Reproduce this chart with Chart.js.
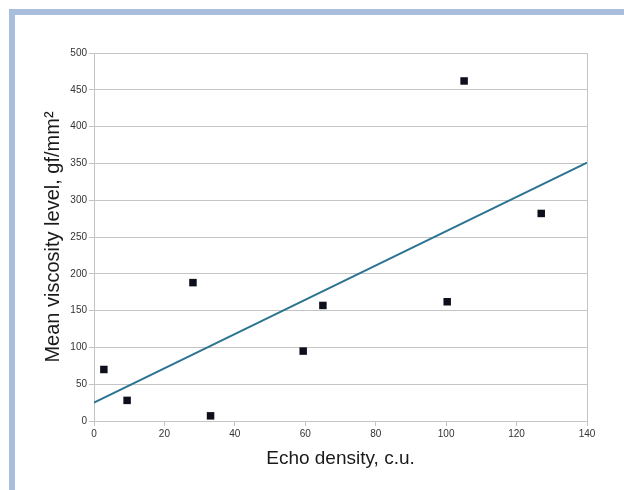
<!DOCTYPE html>
<html>
<head>
<meta charset="utf-8">
<script src="https://cdn.jsdelivr.net/npm/chart.js@4"></script>
<style>
  html, body { margin: 0; padding: 0; background: #ffffff; }
  #wrap { position: relative; width: 624px; height: 490px; overflow: hidden; }
  #frame { position: absolute; left: 9px; top: 9px; right: -10px; bottom: -10px;
           border-top: 6px solid #a9bedd; border-left: 6px solid #a9bedd; }
  canvas { position: absolute; left: 0; top: 0; }
</style>
</head>
<body>
<div id="wrap">
  <div id="frame"></div>
  <canvas id="c" width="624" height="490"></canvas>
</div>
<script>
// Echo density (c.u.) and mean viscosity level (gf/mm^2)
const echoDensity = [2.8, 9.4, 28.1, 33.1, 59.4, 65.0, 100.3, 105.1, 127.0];
const viscosity   = [70, 28, 188, 7, 95, 157, 162, 462, 282];
// Trend line endpoints
const trendX = [0, 140];
const trendY = [25, 351];
const xTicks = [0, 20, 40, 60, 80, 100, 120, 140];
const yTicks = [0, 50, 100, 150, 200, 250, 300, 350, 400, 450, 500];

const pts = echoDensity.map((x, i) => ({ x: x, y: viscosity[i] }));
const trend = trendX.map((x, i) => ({ x: x, y: trendY[i] }));

const tickFont = { family: 'Liberation Sans, Arial, sans-serif', size: 10 };

new Chart(document.getElementById('c'), {
  type: 'scatter',
  data: {
    datasets: [
      {
        data: pts,
        pointStyle: 'rect',
        pointRadius: 5.3,
        pointBackgroundColor: '#0e0f1c',
        pointBorderColor: '#0e0f1c',
        pointBorderWidth: 0,
        showLine: false,
        order: 1
      },
      {
        type: 'line',
        data: trend,
        borderColor: '#2c7392',
        borderWidth: 1.8,
        pointRadius: 0,
        fill: false,
        order: 2
      }
    ]
  },
  options: {
    responsive: false,
    animation: false,
    events: [],
    layout: { padding: { left: 0, right: 37, top: 53, bottom: 0 } },
    plugins: { legend: { display: false }, tooltip: { enabled: false } },
    scales: {
      x: {
        type: 'linear',
        min: 0, max: 140,
        afterBuildTicks: (s) => { s.ticks = xTicks.map(v => ({ value: v })); },
        afterFit: (s) => { s.height = 69; },
        ticks: { font: tickFont, color: '#333', padding: 2, maxRotation: 0 },
        grid: {
          color: (ctx) => (ctx.tick && (ctx.tick.value === 0 || ctx.tick.value === 140)) ? '#c4c4c4' : 'rgba(0,0,0,0)',
          tickColor: '#c4c4c4',
          tickLength: 5,
          lineWidth: 1
        },
        border: { color: '#c4c4c4', width: 1 },
        title: { display: true, text: 'Echo density, c.u.',
                 font: { family: 'Liberation Sans, Arial, sans-serif', size: 19 },
                 color: '#1a1a1a', padding: { top: 0, bottom: 20 } }
      },
      y: {
        type: 'linear',
        min: 0, max: 500,
        afterBuildTicks: (s) => { s.ticks = yTicks.map(v => ({ value: v })); },
        afterFit: (s) => { s.width = 94; },
        ticks: { font: tickFont, color: '#333', padding: 2 },
        grid: { color: '#c4c4c4', tickColor: '#c4c4c4', tickLength: 5, lineWidth: 1 },
        border: { color: '#c4c4c4', width: 1 },
        title: { display: true, text: 'Mean viscosity level, gf/mm²',
                 font: { family: 'Liberation Sans, Arial, sans-serif', size: 20 },
                 color: '#1a1a1a', padding: { top: 41, bottom: 0 } }
      }
    }
  }
});
</script>
</body>
</html>
